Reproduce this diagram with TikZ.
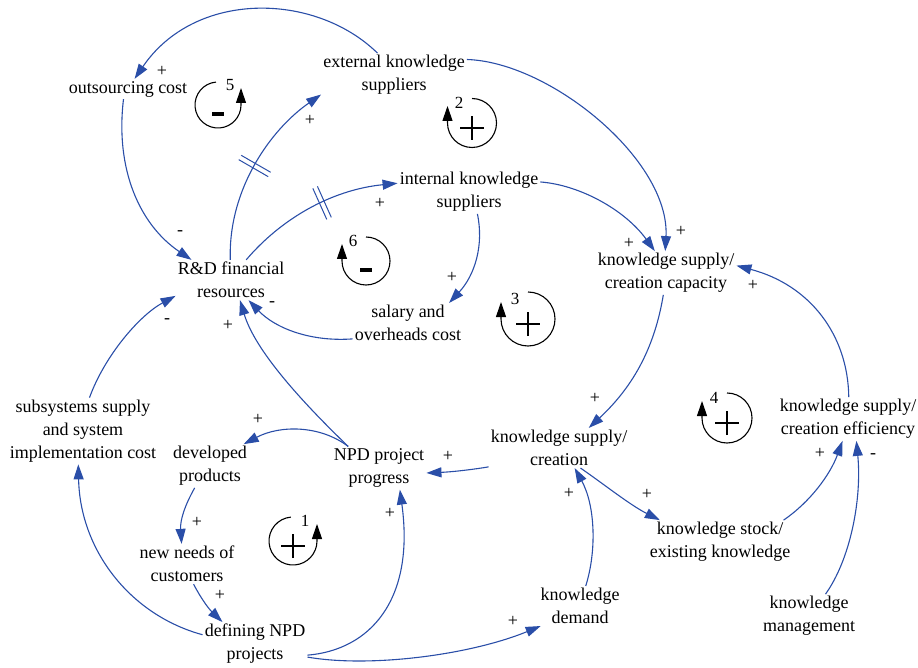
\documentclass[tikz,border=0pt]{standalone}
\usepackage{fontspec}
\setmainfont{Liberation Serif}
\usetikzlibrary{arrows.meta, decorations.markings}
\definecolor{linkblue}{RGB}{42,78,168}

\begin{document}
\begin{tikzpicture}[x=1pt, y=1pt,
    var/.style={align=center, inner sep=2pt, font=\fontsize{18}{23}\selectfont},
    cl/.style={-{Triangle[length=15pt, width=10pt]}, linkblue, line width=1.1pt},
    sg/.style={inner sep=0pt, font=\fontsize{18}{18}\selectfont},
    dly/.style={postaction={decorate}, decoration={markings,
        mark=at position #1 with {\draw[-, linkblue, line width=1pt] (-2.5pt,-17pt) -- (-2.5pt,17pt) (2.5pt,-17pt) -- (2.5pt,17pt);}}},
    lpline/.style={black, line width=1.1pt},
    lpnum/.style={inner sep=0pt, font=\fontsize{17}{17}\selectfont},
    lpplus/.pic={\draw[lpline] (-12,-5) -- (12,-5) (0,-17) -- (0,7);},
    lpminus/.pic={\fill (-6,-11) rectangle (6,-7);}
  ]
    \useasboundingbox (0,0) rectangle (918,-668);

    \node[var] (extsup) at (394,-75) {external knowledge\\suppliers};
    \node[var] (outcost) at (128,-89) {outsourcing cost};
    \node[var] (intsup) at (469,-192) {internal knowledge\\suppliers};
    \node[var] (rdfin) at (231,-280) {R\&D financial\\resources};
    \node[var] (salary) at (408,-323) {salary and\\overheads cost};
    \node[var] (kscap) at (666,-273) {knowledge supply/\\creation capacity};
    \node[var] (kseff) at (848,-419) {knowledge supply/\\creation efficiency};
    \node[var] (kscre) at (559,-448) {knowledge supply/\\creation};
    \node[var] (kstock) at (720,-542) {knowledge stock/\\existing knowledge};
    \node[var] (kdemand) at (580,-606) {knowledge\\demand};
    \node[var] (kmgmt) at (809,-616) {knowledge\\management};
    \node[var] (npd) at (379,-468) {NPD project\\progress};
    \node[var] (devprod) at (210,-466) {developed\\products};
    \node[var] (subsys) at (83,-431) {subsystems supply\\and system\\implementation cost};
    \node[var] (newneeds) at (187,-564) {new needs of\\customers};
    \node[var] (defnpd) at (255,-644) {defining NPD\\projects};

    \draw[cl] (extsup.127) .. controls (315,8) and (195,10) .. (outcost.57);
    \draw[cl] (outcost.246) .. controls (115,-170) and (140,-225) .. (rdfin.153);
    \draw[cl, dly=0.5] (rdfin.92) .. controls (228,-190) and (270,-130) .. (extsup.195);
    \draw[cl, dly=0.55] (rdfin.53) .. controls (280,-220) and (330,-190) .. (intsup.173);
    \draw[cl] (extsup.12) .. controls (550,-62) and (670,-160) .. (kscap.92);
    \draw[cl] (intsup.8) .. controls (580,-185) and (625,-210) .. (kscap.117);
    \draw[cl] (intsup.291) .. controls (484,-245) and (475,-275) .. (salary.26);
    \draw[cl] (salary.196) .. controls (310,-342) and (275,-328) .. (rdfin.311);
    \draw[cl] (npd.145) .. controls (300,-400) and (255,-350) .. (rdfin.294);
    \draw[cl] (subsys.79) .. controls (105,-355) and (140,-315) .. (rdfin.196);
    \draw[cl] (npd.145) .. controls (320,-425) and (280,-425) .. (devprod.33);
    \draw[cl] (devprod.235) .. controls (185,-505) and (180,-520) .. (newneeds.105);
    \draw[cl] (newneeds.288) .. controls (203,-602) and (210,-610) .. (defnpd.146);
    \draw[cl] (defnpd.170) .. controls (130,-615) and (80,-550) .. (subsys.262);
    \draw[cl] (defnpd.348) .. controls (370,-650) and (415,-600) .. (npd.314);
    \draw[cl] (defnpd.346) .. controls (370,-668) and (470,-655) .. (kdemand.207);
    \draw[cl] (kscre.195) .. controls (470,-470) and (450,-472) .. (npd.354);
    \draw[cl] (kscap.263) .. controls (655,-345) and (635,-385) .. (kscre.34);
    \draw[cl] (kdemand.74) .. controls (597,-550) and (595,-505) .. (kscre.308);
    \draw[cl] (kscre.317) .. controls (605,-485) and (630,-505) .. (kstock.160);
    \draw[cl] (kstock.19) .. controls (810,-502) and (830,-475) .. (kseff.256);
    \draw[cl] (kmgmt.53) .. controls (850,-560) and (862,-500) .. (kseff.291);
    \draw[cl] (kseff.88) .. controls (848,-335) and (810,-285) .. (kscap.6);

    \node[sg] (s1) at (162,-71) {+};
    \node[sg] (s2) at (180,-233) {-};
    \node[sg] (s3) at (310,-120) {+};
    \node[sg] (s4) at (380,-203) {+};
    \node[sg] (s5) at (681,-231) {+};
    \node[sg] (s6) at (629,-243) {+};
    \node[sg] (s7) at (452,-277) {+};
    \node[sg] (s8) at (272,-304) {-};
    \node[sg] (s9) at (228,-325) {+};
    \node[sg] (s10) at (167,-321) {-};
    \node[sg] (s11) at (258,-419) {+};
    \node[sg] (s12) at (197,-522) {+};
    \node[sg] (s13) at (220,-595) {+};
    \node[sg] (s15) at (390,-513) {+};
    \node[sg] (s16) at (513,-621) {+};
    \node[sg] (s17) at (448,-456) {+};
    \node[sg] (s18) at (595,-398) {+};
    \node[sg] (s19) at (569,-493) {+};
    \node[sg] (s20) at (647,-494) {+};
    \node[sg] (s21) at (820,-453) {+};
    \node[sg] (s22) at (873,-456) {-};
    \node[sg] (s23) at (753,-285) {+};

    \foreach \x/\y/\r/\n/\s in {472/-123/24.5/2/lpplus, 528/-319/27/3/lpplus, 727/-418/25/4/lpplus, 366/-261/24/6/lpminus} {
      \draw[lpline, -{Triangle[length=15pt, width=10pt]}] (\x,\y) ++(90:\r) arc (90:-180:\r) -- ++(0,17);
      \node[lpnum] (lp\n) at ([shift={(-13,20)}]\x,\y) {\n};
      \pic at (\x,\y) {\s};
    }
    \foreach \x/\y/\r/\n/\s in {218/-105/23/5/lpminus, 293/-541/24/1/lpplus} {
      \draw[lpline, -{Triangle[length=15pt, width=10pt]}] (\x,\y) ++(95:\r) arc (95:360:\r) -- ++(0,17);
      \node[lpnum] (lp\n) at ([shift={(12,20)}]\x,\y) {\n};
      \pic at (\x,\y) {\s};
    }
\end{tikzpicture}
\end{document}
